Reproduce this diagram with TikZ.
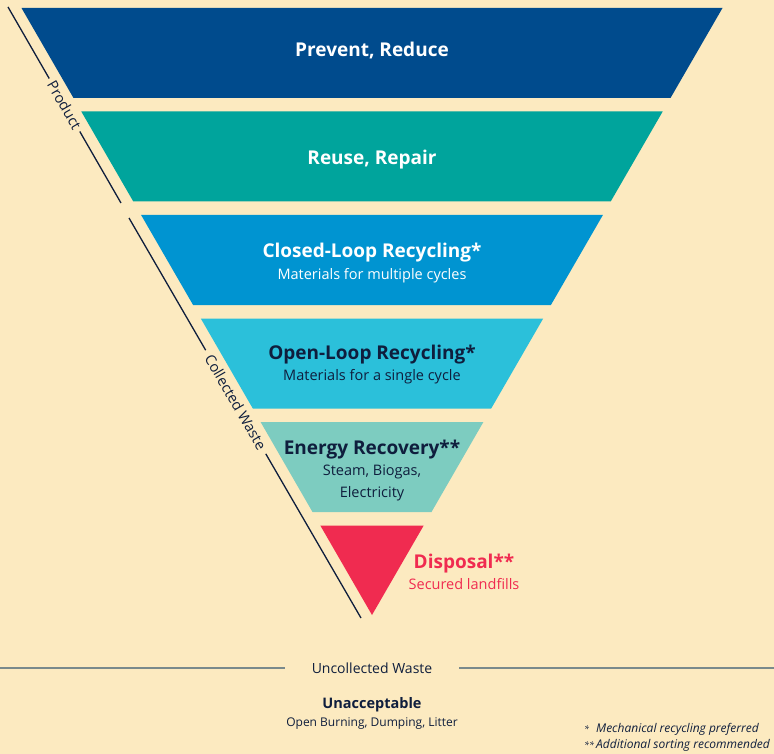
\documentclass[tikz,border=0pt]{standalone}
\usepackage{fontspec}
\setmainfont{Open Sans}
\definecolor{cBack}{HTML}{FCEAC0}
\definecolor{cPrevent}{HTML}{004B8D}
\definecolor{cReuse}{HTML}{00A49C}
\definecolor{cClosed}{HTML}{0094D1}
\definecolor{cOpen}{HTML}{2BC0DA}
\definecolor{cEnergy}{HTML}{7DCCC0}
\definecolor{cDisposal}{HTML}{F02B50}
\definecolor{cNavy}{HTML}{0F1E3D}
\definecolor{cGrey}{HTML}{7A8A8C}
\newcommand{\fBig}{\fontsize{19}{22}\selectfont\bfseries}
\newcommand{\fHead}{\fontsize{19}{22}\selectfont\bfseries}
\newcommand{\fSub}{\fontsize{14.5}{21}\selectfont}
\newcommand{\fStar}[1]{\makebox[12pt][l]{\fontsize{9}{9}\selectfont #1}}
\tikzstyle{fLabel} = [align=center, inner sep=0pt, font=\fontsize{14.5}{21.5}\selectfont]
\tikzstyle{fSide} = [line width=1.3pt, draw=cNavy]
\tikzstyle{fSideLabel} = [sloped, fill=cBack, text=cNavy, font=\fontsize{14.5}{15}\selectfont, inner ysep=0pt]
\tikzstyle{fRule} = [line width=2pt, draw=cGrey]

\begin{document}
\begin{tikzpicture}[x=1pt, y=-1pt, node distance=103.5pt]
    \fill[cBack] (0,0) rectangle (774,754);
    \useasboundingbox (0,0) rectangle (774,754);

    % levels of the pyramid
    \fill[cPrevent] (21.5,8) -- (722.5,8) -- (670.5,98) -- (73.5,98) -- cycle;
    \fill[cReuse] (81.3,111.5) -- (662.7,111.5) -- (610.7,201.5) -- (133.3,201.5) -- cycle;
    \fill[cClosed] (141.1,215) -- (602.9,215) -- (550.9,305) -- (193.1,305) -- cycle;
    \fill[cOpen] (200.8,318.5) -- (543.2,318.5) -- (491.2,408.5) -- (252.8,408.5) -- cycle;
    \fill[cEnergy] (260.6,422) -- (483.4,422) -- (431.5,512) -- (312.5,512) -- cycle;
    \fill[cDisposal] (320.3,525.5) -- (423.7,525.5) -- (372,615) -- cycle;

    \node (prevent) [fLabel, text=white] at (372,51) {\fBig Prevent, Reduce};
    \node (reuse) [fLabel, text=white, below of=prevent, yshift=-5pt] {\fBig Reuse, Repair};
    \node (closed) [fLabel, text=white, below of=reuse] {{\fHead Closed-Loop Recycling*}\\{\fSub Materials for multiple cycles}};
    \node (open) [fLabel, text=cNavy, below of=closed, yshift=2pt] {{\fHead Open-Loop Recycling*}\\{\fSub Materials for a single cycle}};
    \node (energy) [fLabel, text=cNavy, below of=open, yshift=-2.5pt] {{\fHead Energy Recovery**}\\{\fSub Steam, Biogas,}\\{\fSub Electricity}};
    \node (disposal) [fLabel, text=cDisposal, at={(464,572)}] {{\fHead Disposal**}\\{\fSub Secured landfills}};

    % side lines
    \coordinate (productTop) at (8,7);
    \coordinate (productBot) at (121,203);
    \coordinate (wasteTop) at (129,218);
    \coordinate (wasteBot) at (361,618);
    \draw [fSide] (productTop) -- node[fSideLabel, inner xsep=4pt] (product) {Product} (productBot);
    \draw [fSide] (wasteTop) -- node[fSideLabel, pos=0.46, inner xsep=6pt] (collected) {Collected Waste} (wasteBot);

    % uncollected waste
    \coordinate (ruleLeft) at (0,668);
    \coordinate (ruleRight) at (774,668);
    \draw [fRule] (ruleLeft) -- node[pos=0.4806, fill=cBack, text=cNavy, inner xsep=27pt, font=\fontsize{14}{15}\selectfont] (uncollected) {Uncollected Waste} (ruleRight);
    \node (unacceptable) [fLabel, text=cNavy, below of=uncollected, yshift=58.5pt, font=\fontsize{12}{18}\selectfont] {{\fontsize{14.5}{18}\selectfont\bfseries Unacceptable}\\{\fontsize{12}{14}\selectfont Open Burning, Dumping, Litter}};
    \node (notes) [fLabel, align=left, anchor=west, text=cNavy, font=\fontsize{12}{16}\selectfont\itshape] at (584,737) {\fStar{*}Mechanical recycling preferred\\\fStar{**}Additional sorting recommended};
\end{tikzpicture}
\end{document}
